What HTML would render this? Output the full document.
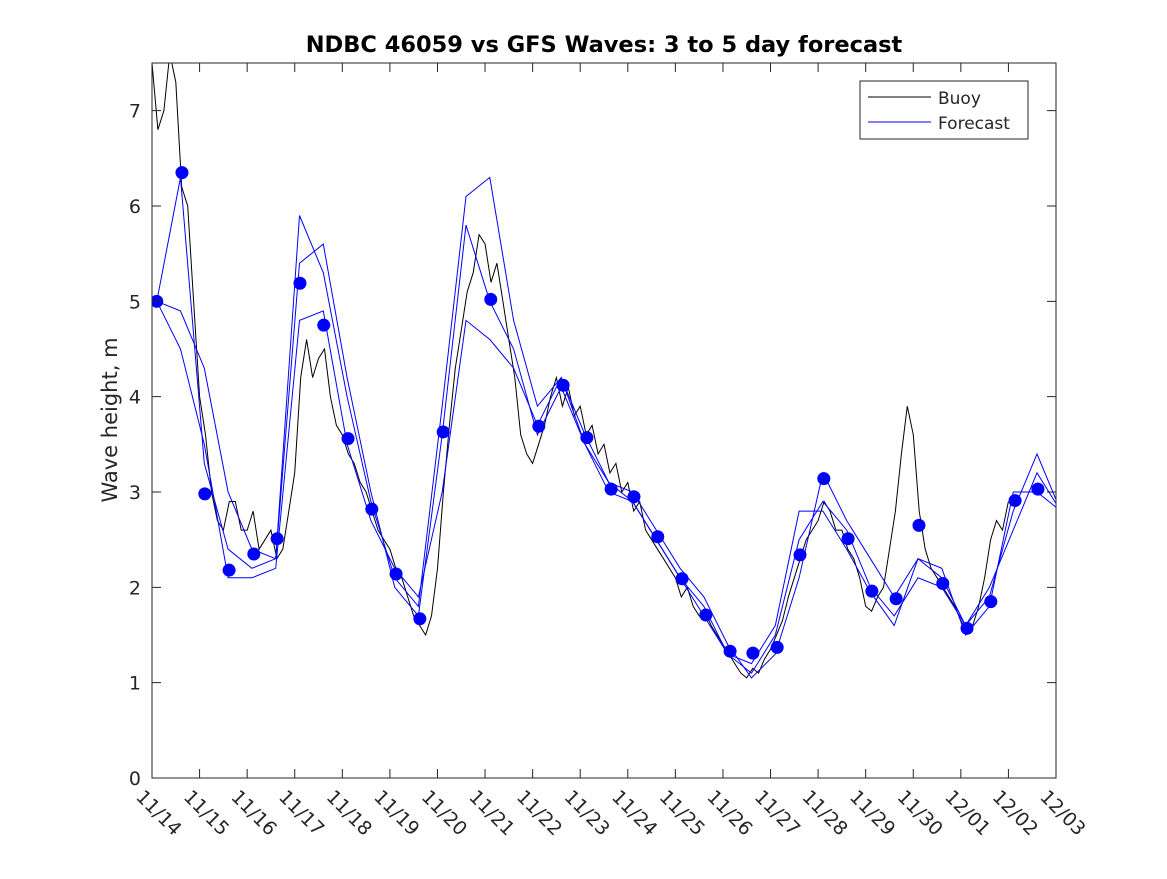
<!DOCTYPE html>
<html><head><meta charset="utf-8"><style>
body{margin:0;background:#fff;font-family:"DejaVu Sans","Liberation Sans",sans-serif;}
svg text{font-family:"DejaVu Sans","Liberation Sans",sans-serif;fill:#262626;}
</style></head><body>
<svg id="chart" width="1167" height="875" xmlns="http://www.w3.org/2000/svg">
<rect width="1167" height="875" fill="#fff"/>
<rect x="152" y="63" width="904" height="715" fill="#fff"/>
<g id="marks"></g>
<rect x="152" y="63" width="904" height="715" fill="none" stroke="#262626" stroke-width="1"/>
<g id="ticks"></g>
<text x="604" y="52" text-anchor="middle" font-size="22.5" font-weight="bold" style="fill:#000">NDBC 46059 vs GFS Waves: 3 to 5 day forecast</text>
<text transform="translate(117,420) rotate(-90)" text-anchor="middle" font-size="21">Wave height, m</text>
<g>
<rect x="860" y="81" width="168" height="58" fill="#fff" stroke="#262626" stroke-width="1"/>
<line x1="868" y1="97" x2="931" y2="97" stroke="#000"/>
<text x="938" y="104" font-size="17">Buoy</text>
<line x1="868" y1="122" x2="931" y2="122" stroke="#0000ff"/>
<text x="938" y="129" font-size="17">Forecast</text>
</g>
</svg>
<script>
const xTickLabels=["11/14","11/15","11/16","11/17","11/18","11/19","11/20","11/21","11/22","11/23","11/24","11/25","11/26","11/27","11/28","11/29","11/30","12/01","12/02","12/03"];
const yTicks=[0,1,2,3,4,5,6,7];
const buoyStart=0, buoyStep=0.125;
const buoyVals=[7.5,6.8,7.0,7.6,7.3,6.2,6.0,5.0,4.0,3.6,3.0,2.7,2.6,2.9,2.9,2.6,2.6,2.8,2.4,2.5,2.6,2.3,2.4,2.8,3.2,4.2,4.6,4.2,4.4,4.5,4.0,3.7,3.6,3.4,3.3,3.1,3.0,2.8,2.6,2.5,2.4,2.2,2.1,1.9,1.7,1.6,1.5,1.7,2.2,3.0,3.7,4.3,4.7,5.1,5.3,5.7,5.6,5.2,5.4,
5.0,4.6,4.2,3.6,3.4,3.3,3.5,3.7,4.0,4.2,3.9,4.1,3.8,3.9,3.6,3.7,3.4,3.5,3.2,3.3,3.0,3.1,2.8,2.9,2.6,2.5,2.4,2.3,2.2,2.1,1.9,2.0,1.8,1.7,1.75,1.6,1.5,1.4,1.3,1.2,1.1,1.05,1.15,1.1,1.25,1.35,1.5,1.65,1.9,2.1,2.3,2.5,2.6,2.7,2.9,2.8,2.6,2.6,2.4,2.3,2.1,1.8,1.75,1.9,2.0,2.4,2.8,3.4,3.9,3.6,2.8,2.4,2.2,2.1,2.0,1.9,1.8,1.65,1.55,1.6,1.8,2.1,2.5,2.7,2.6,2.9];
const dotTimes=[0.1,0.63,1.11,1.62,2.14,2.63,3.11,3.61,4.12,4.62,5.13,5.63,6.12,7.12,8.13,8.64,9.14,9.65,10.13,10.63,11.14,11.64,12.15,12.63,13.14,13.62,14.12,14.63,15.13,15.64,16.12,16.62,17.13,17.63,18.14,18.62];
const dotVals=[5.0,6.35,2.98,2.18,2.35,2.51,5.19,4.75,3.56,2.82,2.14,1.67,3.63,5.02,3.69,4.12,3.57,3.03,2.95,2.53,2.09,1.71,1.33,1.31,1.37,2.34,3.14,2.51,1.96,1.88,2.65,2.04,1.57,1.85,2.91,3.03];
const fcStart=0.1, fcStep=0.5;
const fcA=[5.0,4.9,4.3,3.0,2.4,2.3,5.9,5.3,4.0,2.9,2.1,1.8,3.9,6.1,6.3,4.8,3.9,4.2,3.6,3.1,3.0,2.6,2.2,1.9,1.4,1.05,1.3,2.1,3.2,2.7,2.3,1.9,2.3,2.1,1.6,1.9,2.8,3.4,2.8];
const fcB=[5.0,6.3,3.3,2.4,2.2,2.3,5.4,5.6,4.2,3.0,2.0,1.7,3.6,5.8,5.0,4.5,3.6,4.1,3.5,3.1,2.9,2.5,2.1,1.7,1.3,1.1,1.5,2.5,2.9,2.6,2.0,1.7,2.1,2.0,1.6,2.0,2.6,3.2,2.8];
const fcC=[5.0,4.5,3.5,2.1,2.1,2.2,4.8,4.9,3.5,2.7,2.2,1.9,3.0,4.8,4.6,4.3,3.7,4.2,3.5,3.0,2.9,2.5,2.1,1.8,1.3,1.2,1.6,2.8,2.8,2.4,1.95,1.6,2.3,2.2,1.5,1.8,3.0,3.0,2.8];
const X0=152,X1=1056,Y0=778,Y1=63;
function xs(d){return X0+(d/19)*(X1-X0);}
function ys(v){return Y0-(v/7.5)*(Y0-Y1);}
const NS="http://www.w3.org/2000/svg";
const marks=document.getElementById('marks'),ticks=document.getElementById('ticks');
const clip=document.createElementNS(NS,'clipPath');clip.id='pc';
const cr=document.createElementNS(NS,'rect');cr.setAttribute('x',X0);cr.setAttribute('y',Y1);cr.setAttribute('width',X1-X0);cr.setAttribute('height',Y0-Y1);
clip.appendChild(cr);document.getElementById('chart').appendChild(clip);
marks.setAttribute('clip-path','url(#pc)');
function poly(vals,t0,step,color,name){
  const p=document.createElementNS(NS,'polyline');
  p.setAttribute('points',vals.map((v,i)=>xs(t0+i*step).toFixed(1)+','+ys(v).toFixed(1)).join(' '));
  p.setAttribute('fill','none');p.setAttribute('stroke',color);p.setAttribute('stroke-width','1');
  
  
  marks.appendChild(p);
}
poly(buoyVals,buoyStart,buoyStep,'#000','buoy-line');
poly(fcA,fcStart,fcStep,'#0000ff','forecast-line-a');
poly(fcB,fcStart,fcStep,'#0000ff','forecast-line-b');
poly(fcC,fcStart,fcStep,'#0000ff','forecast-line-c');
dotTimes.forEach((t,i)=>{
  const c=document.createElementNS(NS,'circle');
  c.setAttribute('cx',xs(t));c.setAttribute('cy',ys(dotVals[i]));c.setAttribute('r',6.5);c.setAttribute('fill','#0000ff');
  
  
  marks.appendChild(c);
});
xTickLabels.forEach((lab,i)=>{
  const x=xs(i);
  const l=document.createElementNS(NS,'path');
  l.setAttribute('d',`M${x},${Y0}v-9M${x},${Y1}v9`);l.setAttribute('stroke','#262626');
  
  
  ticks.appendChild(l);
  const t=document.createElementNS(NS,'text');
  t.setAttribute('x',x-17);t.setAttribute('y',Y0+20);t.setAttribute('font-size','19');
  t.setAttribute('transform',`rotate(45 ${x-17} ${Y0+20})`);
  t.textContent=lab;
  
  
  ticks.appendChild(t);
});
yTicks.forEach(v=>{
  const y=ys(v);
  const l=document.createElementNS(NS,'path');
  l.setAttribute('d',`M${X0},${y}h9M${X1},${y}h-9`);l.setAttribute('stroke','#262626');
  
  
  ticks.appendChild(l);
  const t=document.createElementNS(NS,'text');
  t.setAttribute('x',X0-11);t.setAttribute('y',y+7);t.setAttribute('font-size','19');t.setAttribute('text-anchor','end');
  t.textContent=v;
  
  
  ticks.appendChild(t);
});
</script>
</body></html>
